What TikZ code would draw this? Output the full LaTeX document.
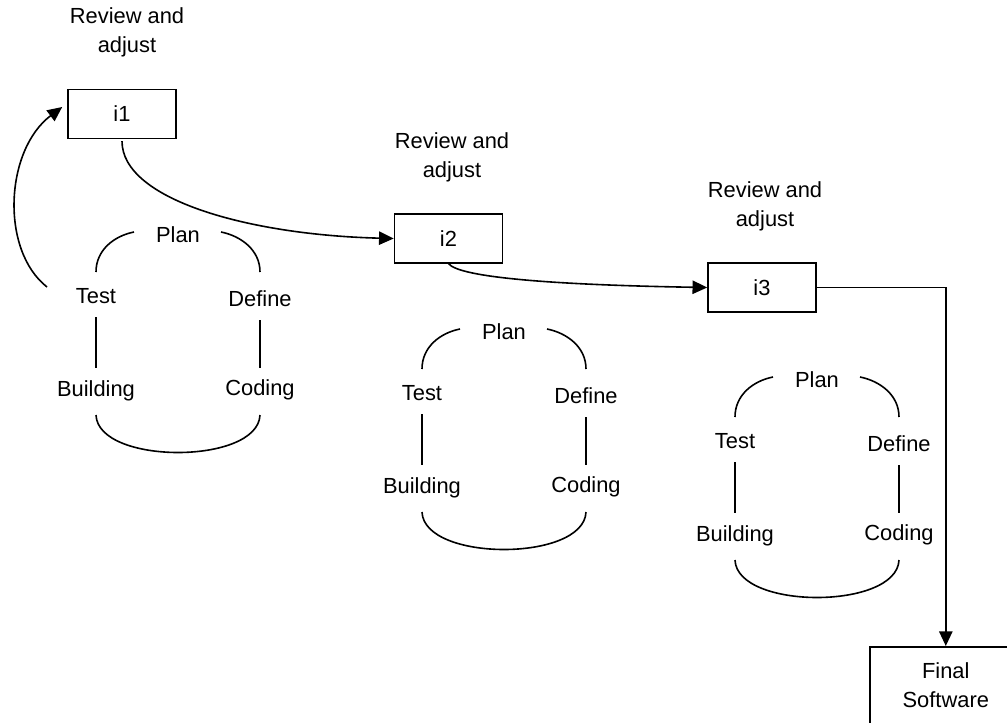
\documentclass[tikz,border=0pt]{standalone}
\usepackage{fontspec}
\setmainfont{Liberation Sans}
\usetikzlibrary{arrows.meta,calc}
\begin{document}
\begin{tikzpicture}[x=0.75pt,y=-0.75pt,
  every node/.style={font=\fontsize{16.4}{22}\selectfont, inner sep=0pt},
  box/.style={draw, line width=1.2pt, minimum width=81pt, minimum height=36.5pt},
  lbl/.style={align=center},
  link/.style={line width=1.2pt},
  flow/.style={line width=1.2pt, -{Triangle[length=11pt,width=10pt]}}]
\useasboundingbox (0,0) rectangle (1007,722);
% review labels
\node[lbl] (r1) at (127,32.5) {Review and\\adjust};
\node[lbl] (r2) at (452,157.5) {Review and\\adjust};
\node[lbl] (r3) at (765,206.5) {Review and\\adjust};
% iteration boxes
\node[box] (i1) at (122,114) {i1};
\node[box] (i2) at (448.5,238.5) {i2};
\node[box] (i3) at (762,287.5) {i3};
% final box
\node[draw, line width=1.2pt, anchor=north west, minimum width=114pt,
      align=center, inner xsep=0pt, inner ysep=12pt] (fin) at (869,646) {Final\\Software};
% cycles
\foreach \i/\cx/\py in {1/178/235,2/504/332,3/817/380}{
  \node (p\i) at (\cx,\py) {Plan};
  \node (t\i) at (\cx-82,\py+61) {Test};
  \node (d\i) at (\cx+82,\py+64) {Define};
  \node (b\i) at (\cx-82,\py+156) {Building};
  \node (c\i) at (\cx+82,\py+155) {Coding};
  \draw[link] ($(p\i)+(-44,-3)$) .. controls ($(p\i)+(-64,1)$) and ($(t\i)+(0,-46)$) .. ($(t\i)+(0,-24)$);
  \draw[link] ($(p\i)+(43,-3)$) .. controls ($(p\i)+(63,1)$) and ($(d\i)+(0,-49)$) .. ($(d\i)+(0,-27)$);
  \draw[link] ($(t\i)+(0,21)$) -- ($(b\i)+(0,-23)$);
  \draw[link] ($(d\i)+(0,21)$) -- ($(c\i)+(0,-22)$);
  \draw[link] ($(b\i)+(0,24)$) .. controls ($(b\i)+(2,74)$) and ($(c\i)+(-2,75)$) .. ($(c\i)+(0,25)$);
}
% flows
\draw[flow] ($(t1)+(-49,-9)$) .. controls (0,250) and (5,150) .. ($(i1.west)+(-5,-7)$);
\draw[flow] ($(i1.south)+(0,2)$) .. controls (122,200) and (250,235) .. (i2.west);
\draw[flow] (i2.south) .. controls (460,278) and (560,285) .. (i3.west);
\draw[flow] (i3.east) -| (fin.north);
\end{tikzpicture}
\end{document}
